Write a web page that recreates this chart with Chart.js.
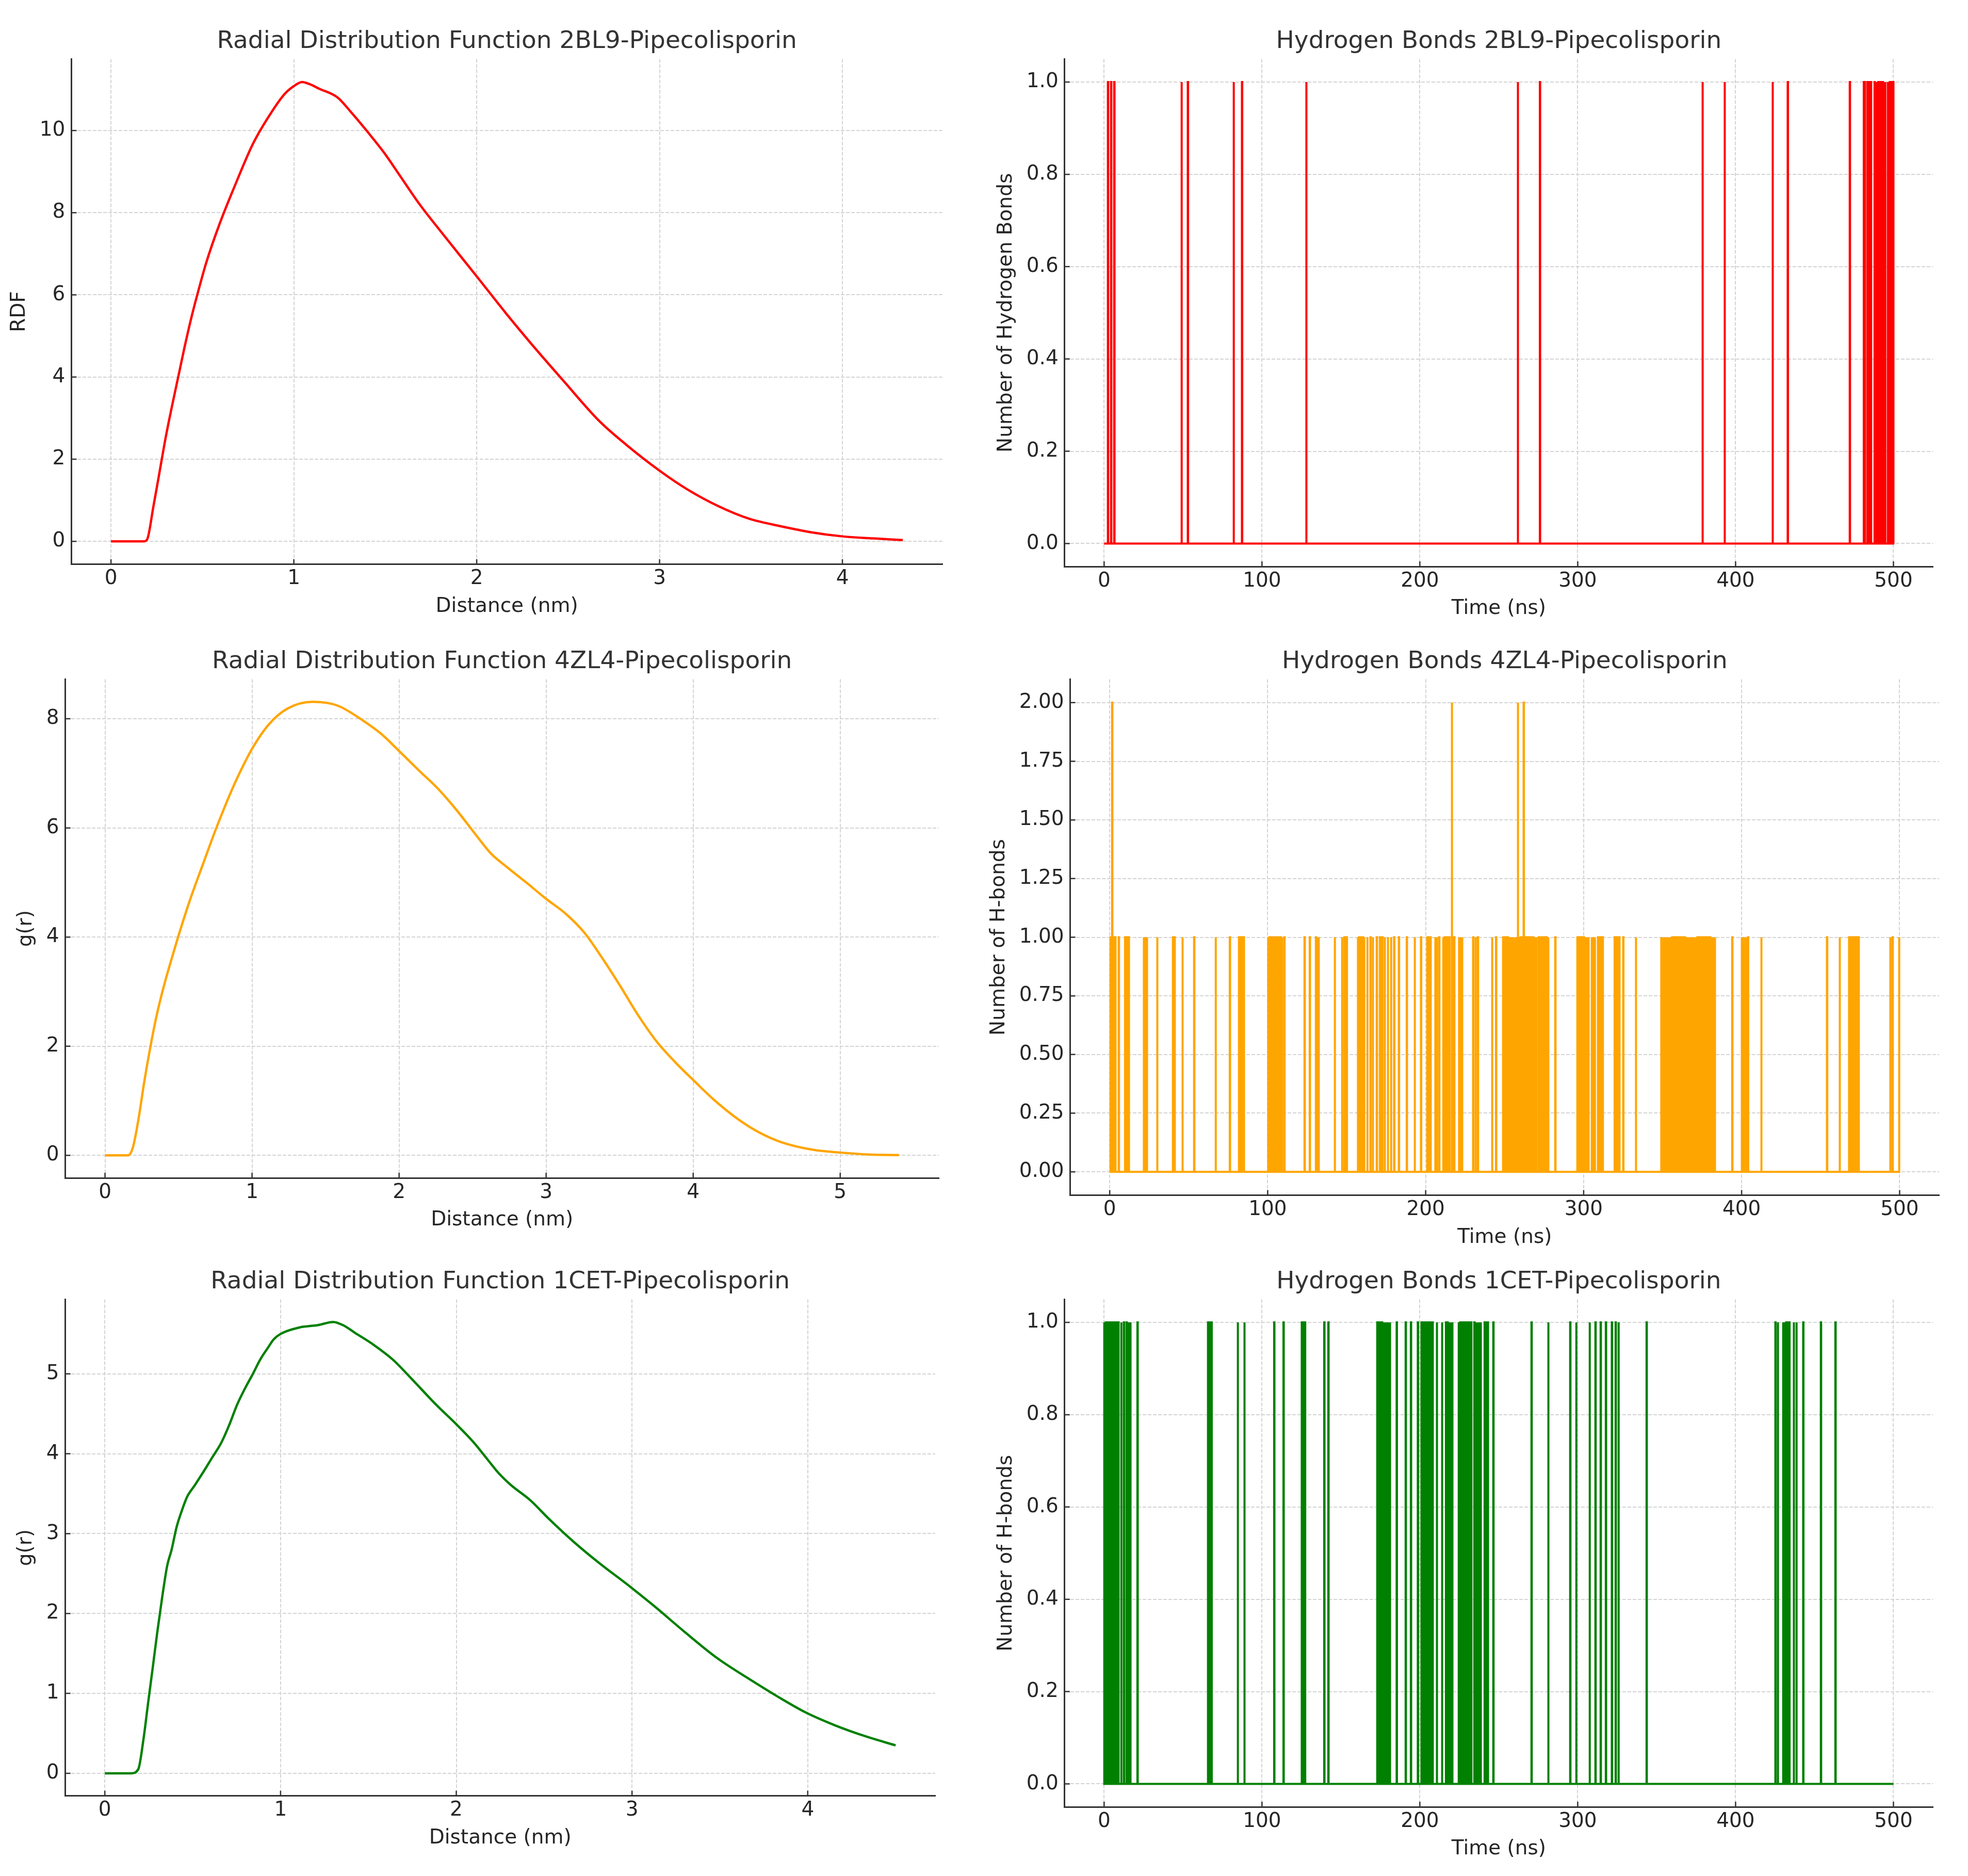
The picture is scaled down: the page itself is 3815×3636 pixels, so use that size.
<!DOCTYPE html>
<html>
<head>
<meta charset="utf-8">
<script src="https://cdn.jsdelivr.net/npm/chart.js@4.4.1/dist/chart.umd.min.js"></script>
<style>
  html, body { margin: 0; padding: 0; background: #fff; }
  #page { position: relative; width: 3815px; height: 3636px; overflow: hidden; background: #fff; }
  .panel { position: absolute; left: 0; top: 0; }
  .panel canvas { display: block; }
</style>
</head>
<body>
<div id="page">
  <div class="panel"><canvas id="c1" width="1900" height="1200"></canvas></div>
  <div class="panel"><canvas id="c2" width="1900" height="1200"></canvas></div>
  <div class="panel"><canvas id="c3" width="1900" height="1200"></canvas></div>
  <div class="panel"><canvas id="c4" width="1900" height="1200"></canvas></div>
  <div class="panel"><canvas id="c5" width="1900" height="1200"></canvas></div>
  <div class="panel"><canvas id="c6" width="1900" height="1200"></canvas></div>
</div>
<script>
// --- RDF curves (distance nm / g(r)) ---
const rdf2bl9X = [0, 0.1, 0.18, 0.198, 0.232, 0.266, 0.30, 0.334, 0.37, 0.40, 0.437, 0.47, 0.52, 0.59, 0.676, 0.778, 0.88, 0.95, 1.0, 1.045, 1.09, 1.137, 1.24, 1.31, 1.41, 1.495, 1.58, 1.68, 1.82, 2.0, 2.16, 2.30, 2.47, 2.67, 2.81, 3.0, 3.15, 3.32, 3.49, 3.66, 3.83, 4.0, 4.17, 4.33];
const rdf2bl9Y = [0, 0, 0, 0.05, 0.85, 1.7, 2.55, 3.3, 4.05, 4.68, 5.4, 5.97, 6.77, 7.68, 8.64, 9.69, 10.46, 10.89, 11.08, 11.18, 11.12, 11.02, 10.8, 10.46, 9.93, 9.45, 8.9, 8.25, 7.45, 6.45, 5.55, 4.8, 3.93, 2.93, 2.38, 1.72, 1.27, 0.86, 0.55, 0.37, 0.22, 0.12, 0.07, 0.03];

const rdf4zl4X = [0, 0.1, 0.157, 0.19, 0.23, 0.264, 0.306, 0.35, 0.40, 0.455, 0.52, 0.583, 0.668, 0.753, 0.86, 0.923, 1.0, 1.115, 1.243, 1.413, 1.583, 1.753, 1.88, 2.0, 2.136, 2.264, 2.39, 2.52, 2.625, 2.73, 2.86, 3.0, 3.136, 3.26, 3.37, 3.5, 3.625, 3.753, 3.88, 4.0, 4.136, 4.306, 4.455, 4.6, 4.817, 5.0, 5.2, 5.4];
const rdf4zl4Y = [0, 0, 0, 0.15, 0.7, 1.3, 1.95, 2.55, 3.1, 3.62, 4.2, 4.72, 5.35, 5.97, 6.68, 7.05, 7.45, 7.9, 8.19, 8.31, 8.24, 7.97, 7.72, 7.41, 7.05, 6.72, 6.33, 5.88, 5.53, 5.29, 5.01, 4.70, 4.42, 4.08, 3.66, 3.12, 2.57, 2.08, 1.70, 1.38, 1.03, 0.66, 0.41, 0.24, 0.10, 0.05, 0.014, 0.005];

const rdf1cetX = [0, 0.1, 0.149, 0.19, 0.22, 0.245, 0.273, 0.298, 0.326, 0.355, 0.38, 0.408, 0.44, 0.468, 0.51, 0.557, 0.61, 0.663, 0.706, 0.752, 0.798, 0.84, 0.887, 0.929, 0.96, 1.0, 1.106, 1.213, 1.30, 1.355, 1.426, 1.532, 1.638, 1.745, 1.887, 2.0, 2.1, 2.17, 2.24, 2.31, 2.42, 2.525, 2.667, 2.809, 2.993, 3.128, 3.305, 3.48, 3.66, 3.837, 3.99, 4.156, 4.333, 4.5];
const rdf1cetY = [0, 0, 0, 0.05, 0.43, 0.86, 1.33, 1.76, 2.2, 2.6, 2.8, 3.08, 3.3, 3.46, 3.6, 3.76, 3.95, 4.14, 4.35, 4.61, 4.82, 4.99, 5.19, 5.33, 5.43, 5.5, 5.58, 5.61, 5.65, 5.61, 5.51, 5.36, 5.18, 4.94, 4.61, 4.37, 4.14, 3.95, 3.76, 3.61, 3.42, 3.19, 2.90, 2.64, 2.33, 2.09, 1.76, 1.45, 1.19, 0.95, 0.76, 0.60, 0.46, 0.35];

// --- hydrogen bonds: times (ns) where the count is 1, and where it is 2 ---
const simStart = 0, simEnd = 500;
const frameNs = 0.2;
const hb2bl9Times = [2.4, 4.4, 6.4, 49, 53, 82, 87.3, 128, 262, 276, 379, 393, 423.4, 433, 472.3,
  481.2, 481.8, 483.5, 484.3, 485, 485.7, 488, 488.8, 489.5, 490.3, 491.8, 492.5, 493.2, 494, 494.7,
  496.3, 497, 497.7, 498.4, 499.1, 499.8];
const hb2bl9Twos = [];

const hb4zl4Times = [0.5, 1, 2, 2.5, 3, 3.5, 5.7, 9.7, 10.5, 11.2, 12, 21.5, 22.5, 23.5, 30, 40, 41, 46, 53.4, 67, 76,
  81.8, 82.5, 83.3, 84, 84.8, 100.2, 101, 101.8, 102.6, 103.4, 104.2, 105, 105.8, 106.6, 107.4, 108.2, 109, 110.5,
  123.3, 126.6, 130.5, 131.3, 132.2, 142.4, 147, 148.5, 150, 157, 157.8, 158.6, 159.4, 160.2, 161, 163, 165, 166.5,
  169, 171, 172.5, 174, 176, 178, 180, 183, 188, 193, 197, 201, 202, 203, 206, 207, 208.5, 211, 212, 213, 214, 215,
  217, 218, 221, 222, 223, 230, 231.5, 233, 242, 244.5, 249, 250, 251, 252, 253, 254, 255, 256, 257, 259, 260, 261,
  263, 264, 265, 266, 267, 268, 269, 270, 271.5, 272.5, 273.5, 274.5, 275.5, 276.5, 277.5, 282,
  296, 297, 298, 299, 300, 301, 302, 303, 305, 306, 307, 309, 310, 311, 312, 319.6, 320.5, 321.5, 322.5, 325, 333,
  349, 350, 351, 352, 353, 354, 355, 356, 357, 358, 359, 360, 361, 362, 363, 364, 365, 366, 367, 368, 369, 370,
  371, 372, 373, 374, 375, 376, 377, 378, 379, 380, 381, 382, 383, 394, 400, 401, 402, 403, 404, 412.4,
  454, 462, 468, 469, 470, 471, 472, 473, 474, 494, 495.5, 499.6];
const hb4zl4Twos = [1.5, 216.5, 258.3, 262];

const hb1cetTimes = [0, 1, 2, 3, 4, 5, 6, 7, 8, 9, 10.8, 12.5, 14.2, 15.3, 16.6, 21.1, 65.8, 66.8, 68, 84.6, 88.8,
  107.7, 113.6, 125.2, 126.2, 127.2, 139.4, 142, 173, 174, 175, 176, 177, 178, 179, 180, 181, 185.3, 191, 194.3,
  198.7, 201, 202, 203, 204, 205, 206, 207, 208, 210.7, 214, 216.5, 217.5, 218.5, 219.5, 220.5, 224.5, 225.5,
  226.5, 227.5, 228.5, 229.5, 230.5, 231.5, 232.5, 234.5, 235.5, 236.5, 237.5, 238.5, 241, 242, 243, 246.5,
  270.7, 281.3, 295.2, 299, 307.5, 311.2, 314.5, 317.8, 321.6, 324, 325.8, 343.6, 425.2, 426.7, 430, 431, 432,
  433, 434, 436.8, 438.5, 442.8, 454, 463.2];
const hb1cetTwos = [];

// --- tick labels ---
const distTicks2bl9 = [0, 1, 2, 3, 4];
const rdfTicks2bl9 = [0, 2, 4, 6, 8, 10];
const distTicks4zl4 = [0, 1, 2, 3, 4, 5];
const rdfTicks4zl4 = [0, 2, 4, 6, 8];
const distTicks1cet = [0, 1, 2, 3, 4];
const rdfTicks1cet = [0, 1, 2, 3, 4, 5];
const timeTicks = [0, 100, 200, 300, 400, 500];
const hbTicks2bl9 = [0, 0.2, 0.4, 0.6, 0.8, 1.0];
const hbTicks4zl4 = [0, 0.25, 0.5, 0.75, 1.0, 1.25, 1.5, 1.75, 2.0];
const hbTicks1cet = [0, 0.2, 0.4, 0.6, 0.8, 1.0];

Chart.defaults.font.family = "'DejaVu Sans', sans-serif";
Chart.defaults.font.size = 39;
Chart.defaults.color = '#262626';

// matplotlib style: 5% margin around the data
function margins(arr) {
  const lo = Math.min(...arr), hi = Math.max(...arr);
  const d = (hi - lo) * 0.05;
  return [lo - d, hi + d];
}

function toPoints(xs, ys) {
  return xs.map((x, i) => ({ x: x, y: ys[i] }));
}

// each event is one frame wide
function pulses(ones, twos) {
  const ev = ones.map(t => [t, 1]).concat(twos.map(t => [t, 2])).sort((a, b) => a[0] - b[0]);
  const pts = [{ x: simStart, y: 0 }];
  ev.forEach(([t, v]) => {
    pts.push({ x: t, y: 0 }, { x: t, y: v }, { x: t + frameNs, y: v }, { x: t + frameNs, y: 0 });
  });
  pts.push({ x: simEnd, y: 0 });
  return pts;
}

// ticks point inward like the original
const inwardTicks = {
  id: 'inwardTicks',
  afterDatasetsDraw(chart) {
    const { ctx, chartArea: a, scales: { x, y } } = chart;
    ctx.save();
    ctx.strokeStyle = '#333';
    ctx.lineWidth = 2.5;
    ctx.beginPath();
    x.ticks.forEach(t => {
      const px = x.getPixelForValue(t.value);
      ctx.moveTo(px, a.bottom);
      ctx.lineTo(px, a.bottom - 10);
    });
    y.ticks.forEach(t => {
      const py = y.getPixelForValue(t.value);
      ctx.moveTo(a.left, py);
      ctx.lineTo(a.left + 10, py);
    });
    ctx.stroke();
    ctx.restore();
  }
};

function axis(range, ticks, digits, title, isX) {
  return {
    type: 'linear',
    min: range[0],
    max: range[1],
    afterBuildTicks: s => { s.ticks = ticks.map(v => ({ value: v })); },
    ticks: {
      autoSkip: false,
      maxRotation: 0,
      padding: isX ? 5 : 12,
      color: '#262626',
      callback: v => Number(v).toFixed(digits)
    },
    grid: { color: '#d4d4d4', lineWidth: 2, drawTicks: false },
    border: { display: true, color: '#333', width: 3, dash: [7, 3] },
    title: {
      display: true,
      text: title,
      color: '#262626',
      padding: isX ? { top: 2, bottom: 0 } : { top: 0, bottom: 4 }
    }
  };
}

function makeChart(id, box, cfg) {
  const chart = new Chart(document.getElementById(id), {
    type: 'line',
    data: {
      datasets: [{
        data: cfg.points,
        borderColor: cfg.color,
        borderWidth: cfg.lineWidth,
        pointRadius: 0,
        fill: false,
        tension: cfg.smooth ? 0.4 : 0,
        cubicInterpolationMode: cfg.smooth ? 'monotone' : 'default'
      }]
    },
    options: {
      responsive: false,
      animation: false,
      devicePixelRatio: 1,
      events: [],
      plugins: {
        legend: { display: false },
        tooltip: { enabled: false },
        title: {
          display: true,
          text: cfg.title,
          fullSize: false,
          color: '#333',
          font: { size: 47, weight: 'normal' },
          padding: { top: 0, bottom: 5 }
        }
      },
      scales: {
        x: axis(cfg.xRange, cfg.xTicks, cfg.xDigits, cfg.xTitle, true),
        y: axis(cfg.yRange, cfg.yTicks, cfg.yDigits, cfg.yTitle, false)
      }
    },
    plugins: [inwardTicks]
  });

  // size the canvas so the plot area matches the target box, then move it there
  let a = chart.chartArea;
  chart.resize(Math.round(chart.width + box.w - (a.right - a.left)),
               Math.round(chart.height + box.h - (a.bottom - a.top)));
  chart.update('none');
  a = chart.chartArea;
  const wrap = chart.canvas.parentNode;
  wrap.style.left = (box.x - a.left) + 'px';
  wrap.style.top = (box.y - a.top) + 'px';
  return chart;
}

const timeRange = margins([simStart, simEnd]);

makeChart('c1', { x: 138, y: 114, w: 1691, h: 1008 }, {
  title: 'Radial Distribution Function 2BL9-Pipecolisporin',
  points: toPoints(rdf2bl9X, rdf2bl9Y), color: '#ff0000', lineWidth: 4.5, smooth: true,
  xRange: margins(rdf2bl9X), xTicks: distTicks2bl9, xDigits: 0, xTitle: 'Distance (nm)',
  yRange: margins(rdf2bl9Y), yTicks: rdfTicks2bl9, yDigits: 0, yTitle: 'RDF'
});

makeChart('c2', { x: 2064, y: 114, w: 1685, h: 1008 }, {
  title: 'Hydrogen Bonds 2BL9-Pipecolisporin',
  points: pulses(hb2bl9Times, hb2bl9Twos), color: '#ff0000', lineWidth: 4, smooth: false,
  xRange: timeRange, xTicks: timeTicks, xDigits: 0, xTitle: 'Time (ns)',
  yRange: margins([0, 1]), yTicks: hbTicks2bl9, yDigits: 1, yTitle: 'Number of Hydrogen Bonds'
});

makeChart('c3', { x: 127, y: 1316, w: 1695, h: 1012 }, {
  title: 'Radial Distribution Function 4ZL4-Pipecolisporin',
  points: toPoints(rdf4zl4X, rdf4zl4Y), color: '#ffa500', lineWidth: 4.5, smooth: true,
  xRange: margins(rdf4zl4X), xTicks: distTicks4zl4, xDigits: 0, xTitle: 'Distance (nm)',
  yRange: margins(rdf4zl4Y), yTicks: rdfTicks4zl4, yDigits: 0, yTitle: 'g(r)'
});

makeChart('c4', { x: 2075, y: 1316, w: 1686, h: 1012 }, {
  title: 'Hydrogen Bonds 4ZL4-Pipecolisporin',
  points: pulses(hb4zl4Times, hb4zl4Twos), color: '#ffa500', lineWidth: 4, smooth: false,
  xRange: timeRange, xTicks: timeTicks, xDigits: 0, xTitle: 'Time (ns)',
  yRange: margins([0, 2]), yTicks: hbTicks4zl4, yDigits: 2, yTitle: 'Number of H-bonds'
});

makeChart('c5', { x: 127, y: 2518, w: 1688, h: 1010 }, {
  title: 'Radial Distribution Function 1CET-Pipecolisporin',
  points: toPoints(rdf1cetX, rdf1cetY), color: '#008000', lineWidth: 4.5, smooth: true,
  xRange: margins(rdf1cetX), xTicks: distTicks1cet, xDigits: 0, xTitle: 'Distance (nm)',
  yRange: margins(rdf1cetY), yTicks: rdfTicks1cet, yDigits: 0, yTitle: 'g(r)'
});

makeChart('c6', { x: 2064, y: 2518, w: 1685, h: 1010 }, {
  title: 'Hydrogen Bonds 1CET-Pipecolisporin',
  points: pulses(hb1cetTimes, hb1cetTwos), color: '#008000', lineWidth: 4, smooth: false,
  xRange: timeRange, xTicks: timeTicks, xDigits: 0, xTitle: 'Time (ns)',
  yRange: margins([0, 1]), yTicks: hbTicks1cet, yDigits: 1, yTitle: 'Number of H-bonds'
});
</script>
</body>
</html>
